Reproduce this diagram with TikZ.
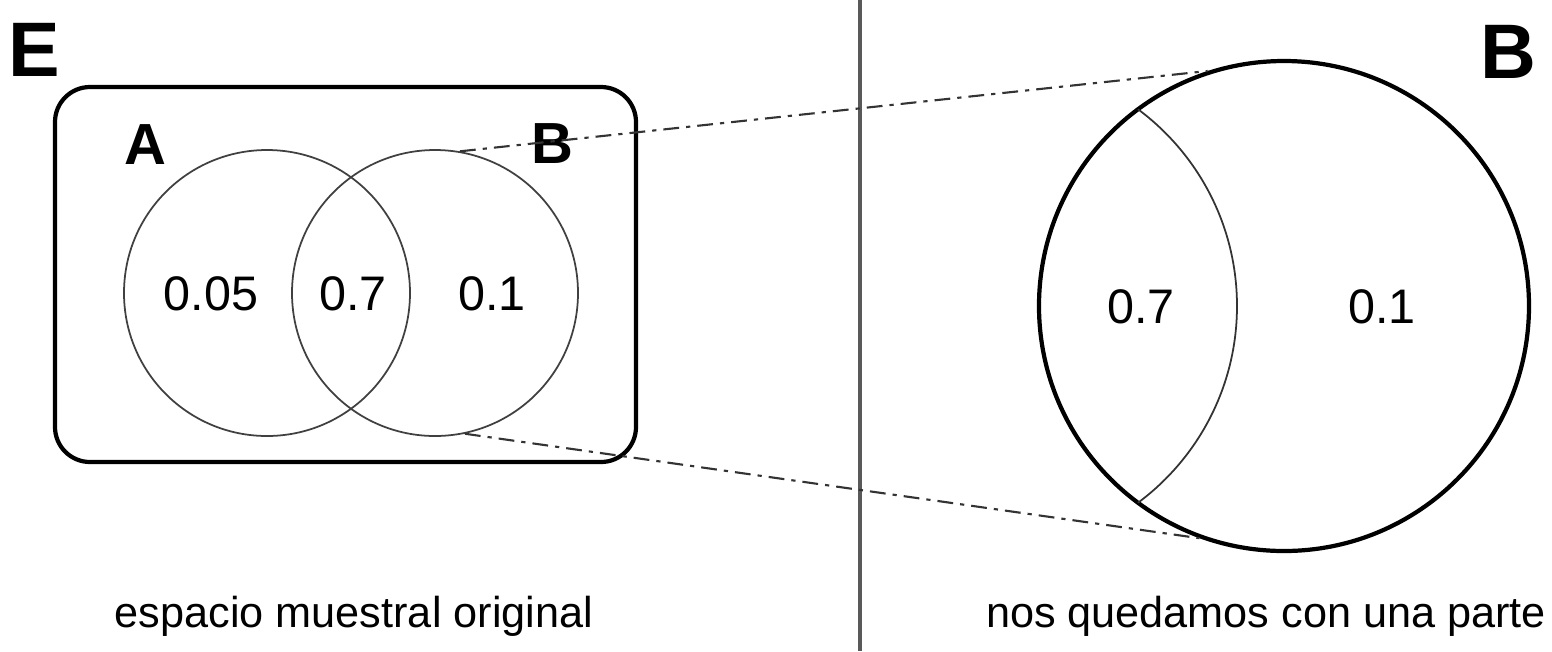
\documentclass[tikz,border=0pt]{standalone}
\usepackage{fontspec}
\setmainfont{Liberation Sans}
\begin{document}
\begin{tikzpicture}[
    venn/.style={circle, draw=black!75, line width=0.5pt, minimum size=2.86cm, inner sep=0pt},
    setlbl/.style={font=\fontsize{16.5}{18}\selectfont\bfseries},
    biglbl/.style={font=\fontsize{22}{24}\selectfont\bfseries},
    num/.style={font=\fontsize{13.8}{16}\selectfont},
    caption/.style={font=\fontsize{12.3}{14}\selectfont, anchor=base},
    zoomline/.style={draw=black!80, line width=0.6pt, dash pattern=on 4.5pt off 2pt on 1.2pt off 2pt}
]
    \useasboundingbox (0,0) rectangle (15.52,6.51);

    % separator
    \coordinate (top) at (8.60, 6.51);
    \coordinate (bot) at (8.60, 0);
    \draw[black!65, line width=0.9pt] (top) -- (bot);

    % espacio muestral original
    \node[biglbl] (E) at (0.345, 6.01) {E};
    \node[draw, line width=1.2pt, rounded corners=0.35cm, minimum width=5.81cm, minimum height=3.75cm] (space) at (3.455, 3.765) {};
    \node[venn] (A) at (2.67, 3.58) {};
    \node[venn] (B) at (4.35, 3.58) {};
    \node[setlbl] (labA) at (1.45, 5.06) {A};
    \node[setlbl] (labB) at (5.52, 5.07) {B};
    \node[num] (pA) at (2.11, 3.57) {0.05};
    \node[num] (pAB) at (3.53, 3.57) {0.7};
    \node[num] (pB) at (4.92, 3.57) {0.1};
    \node[caption] (capL) at (3.54, 0.24) {espacio muestral original};

    % nos quedamos con B
    \node[circle, draw, line width=1.2pt, minimum size=4.9cm, inner sep=0pt] (Bz) at (12.84, 3.45) {};
    \begin{scope}
        \clip (Bz.center) circle (2.45cm);
        \draw[black!80, line width=0.5pt] ([xshift=-2.92cm]Bz.center) circle (2.45cm);
    \end{scope}
    \node[biglbl] (labBz) at (15.08, 5.99) {B};
    \node[num] (qAB) at (11.41, 3.44) {0.7};
    \node[num] (qB) at (13.82, 3.44) {0.1};
    \node[caption] (capR) at (12.66, 0.24) {nos quedamos con una parte};

    % zoom
    \draw[zoomline] (B.80) -- (Bz.108);
    \draw[zoomline] (B.-78) -- (Bz.-110);
\end{tikzpicture}
\end{document}
